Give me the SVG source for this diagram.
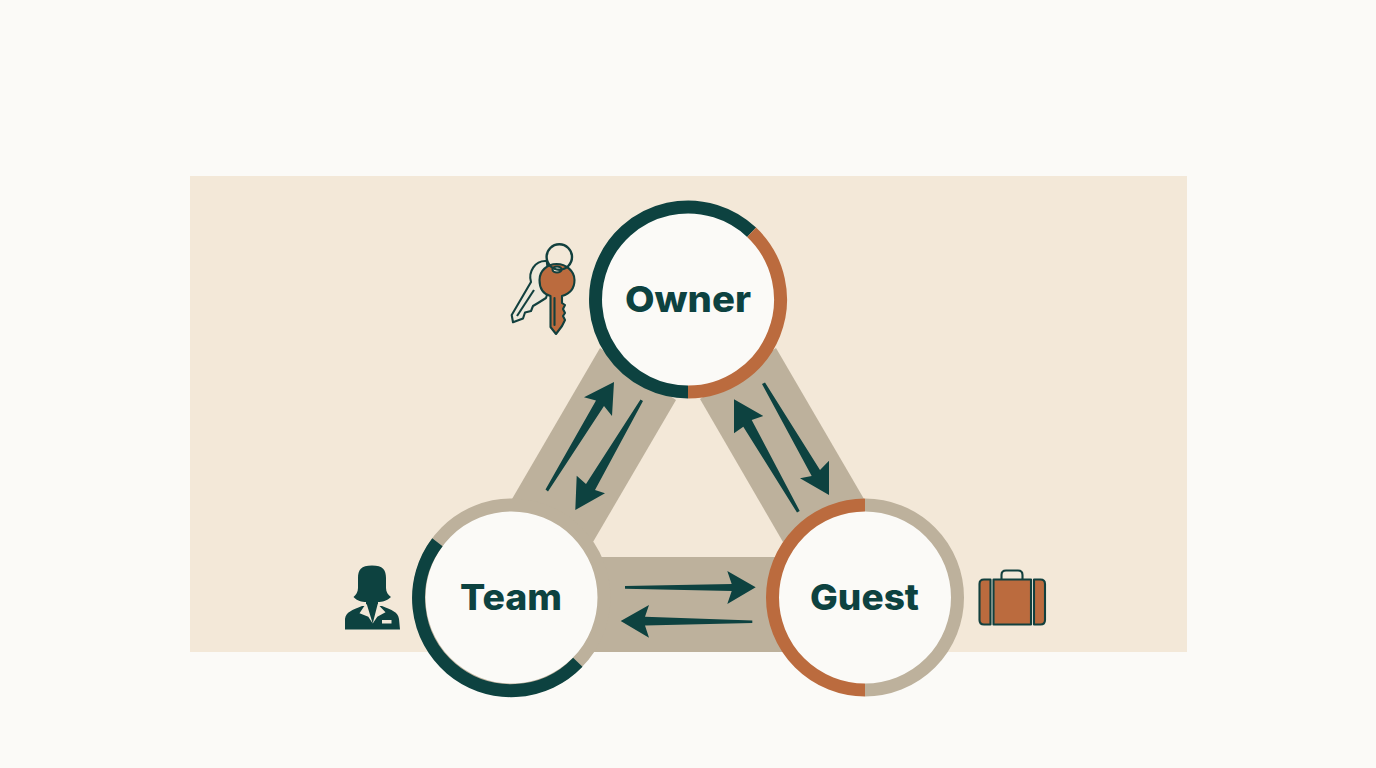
<svg xmlns="http://www.w3.org/2000/svg" width="1376" height="768" viewBox="0 0 1376 768">
<style>
.band{fill:#BDB19C}
.arrow{fill:#0D4240}
.disc{fill:#FBFAF7}
.ring{fill:none;stroke-width:13}
.dark{stroke:#0D4240}
.orange{stroke:#BB6B3E}
.tan{stroke:#BDB19C}
.label{font-family:Inter,"Liberation Sans",sans-serif;font-weight:800;font-size:36px;fill:#0D4240}
.ink{stroke:#12403E;stroke-width:2.1;stroke-linejoin:round}
.rust{fill:#BB6B3E}
.cream{fill:#F3E8D8}
</style>
<rect width="1376" height="768" fill="#FBFAF7"/>
<rect x="190" y="176" width="997" height="476" fill="#F3E8D8"/>
<g id="connectors">
<polygon class="band" points="600,348 512,499 593,542 676,400"/>
<polygon class="band" points="776,348 864,499 783,542 700,399"/>
<polygon class="band" points="590,557 790,557 790,652 590,652"/>
<polygon class="arrow" points="545.5,489.5 548,491.5 604,406 612,416 614,382 584,397.3 596,400.5"/>
<polygon class="arrow" points="640.5,399.5 643,401 595,490 605,493.3 575.3,510 576.7,475.7 586,484"/>
<polygon class="arrow" points="797,512.5 799.7,511 751.7,420 763.3,416 734,399.3 734,433.3 743.3,426.7"/>
<polygon class="arrow" points="762,384 765,382.5 820,470 829,460.7 829,495 800,478.3 811.7,476"/>
<polygon class="arrow" points="625,586 625,588.8 731.7,591 727.3,604 755.7,587.3 727.3,571 731.7,584"/>
<polygon class="arrow" points="752.3,620.5 752.3,623 645,625.5 649,637.7 620.7,621 649,605 645,616.7"/>
</g>
<g id="owner">
<circle class="disc" cx="688" cy="299.5" r="92.5"/>
<path class="ring dark" d="M688,392 A92.5,92.5 0 1 1 751.6,232.3"/>
<path class="ring orange" d="M751.6,232.3 A92.5,92.5 0 0 1 688,392"/>
<text class="label" x="688" y="312" text-anchor="middle" textLength="126" lengthAdjust="spacingAndGlyphs">Owner</text>
<g id="owner-icon">
<path class="ink" fill="#EDE8DB" d="M546.7,261 C535,260 528,272 531,282 L511.7,315 L513,322.3 L523,318.5 L525,312.5 L531,311 L533,306 L538,303 L546,298 L550,285Z"/>
<path class="ink" fill="none" d="M534,290 L517,316"/>
<path class="ink rust" d="M556.7,264 C566,264 574.5,271 574.5,280 C574.5,289 569,294 562,296 L562,303 L565,305 L563,309 L565,313 L563,316 L565,320 L562,326 L556,334 L550.5,327 L550.5,296 C543,294 539.5,288 539.5,280 C539.5,271 547,264 556.7,264Z"/>
<path class="ink" fill="none" stroke-linecap="round" d="M554.5,298 L554.5,325"/>
<ellipse class="ink cream" cx="557" cy="269.5" rx="4.5" ry="3"/>
<circle cx="559.3" cy="257" r="12.7" fill="none" stroke="#12403E" stroke-width="2.4"/>
</g>
</g>
<g id="team">
<circle class="disc" cx="511.5" cy="597.5" r="92.5"/>
<circle class="ring tan" cx="511.5" cy="597.5" r="92.5"/>
<path class="ring dark" d="M437.4,542.2 A92.5,92.5 0 0 0 577.8,662.2"/>
<text class="label" x="511" y="610" text-anchor="middle" textLength="102" lengthAdjust="spacingAndGlyphs">Team</text>
<g id="team-icon">
<path class="arrow" d="M345,629.5 L345,619 C346,612 352,610 362,606 L382,606 C392,610 398,612 399,619 L400,629.5Z"/>
<path class="arrow" d="M372,565.5 C361,565.5 358,570 358,578 L358,588 C358,592 356,595 353.5,597 C357,601 362,602 366,602 L366,608 L378,608 L378,602 C382,602 387,601 391,597 C388,595 386,592 386,588 L386,578 C386,570 383,565.5 372,565.5Z"/>
<polygon class="cream" points="364,606.5 366.7,604 372.7,623.5 368.3,616.7 359.5,613.3"/>
<polygon class="cream" points="380,606.5 377.7,604 372.7,623.5 377.3,616.7 385.5,612.3"/>
<rect class="cream" x="382" y="620" width="9.5" height="3.5"/>
</g>
</g>
<g id="guest">
<circle class="disc" cx="865" cy="597.5" r="92.5"/>
<path class="ring orange" d="M865,505 A92.5,92.5 0 0 0 865,690"/>
<path class="ring tan" d="M865,505 A92.5,92.5 0 0 1 865,690"/>
<text class="label" x="864.5" y="610" text-anchor="middle" textLength="109" lengthAdjust="spacingAndGlyphs">Guest</text>
<g id="guest-icon">
<path class="ink" fill="#F3E8D8" d="M1001.5,580 L1001.5,575 Q1001.5,570.5 1006,570.5 L1018,570.5 Q1022.5,570.5 1022.5,575 L1022.5,580Z"/>
<path class="ink rust" d="M990.5,579.5 L984,579.5 Q979.5,579.5 979.5,584 L979.5,620 Q979.5,624.5 984,624.5 L990.5,624.5Z"/>
<rect class="ink rust" x="993.5" y="579.5" width="37.5" height="45"/>
<path class="ink rust" d="M1034,579.5 L1040.5,579.5 Q1045,579.5 1045,584 L1045,620 Q1045,624.5 1040.5,624.5 L1034,624.5Z"/>
</g>
</g>
</svg>
